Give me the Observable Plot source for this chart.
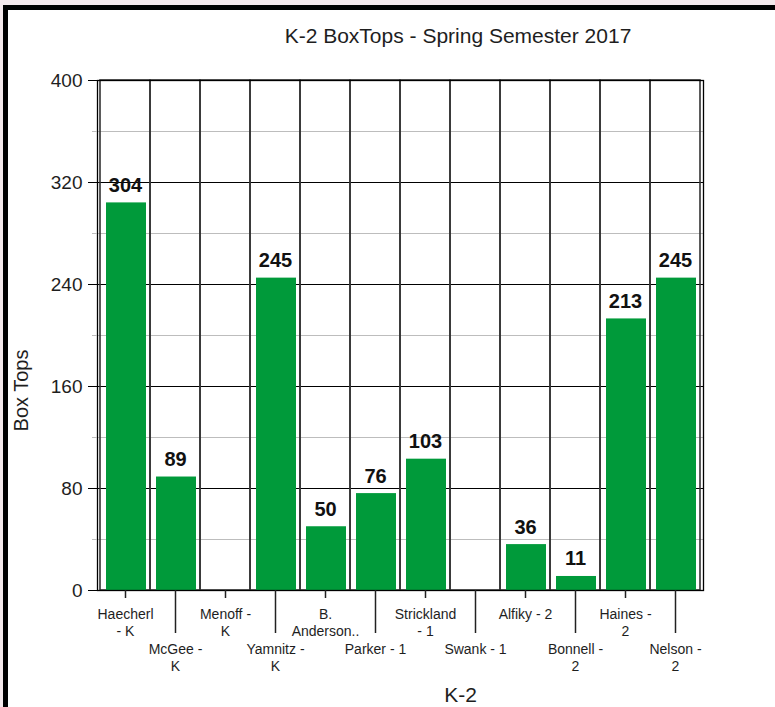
<!DOCTYPE html>
<html><head><meta charset="utf-8">
<script src="https://cdn.jsdelivr.net/npm/d3@7"></script>
<script src="https://cdn.jsdelivr.net/npm/@observablehq/plot@0.6"></script>
<style>
html,body{margin:0;padding:0;background:#f4e9ec;}
#wrap{position:absolute;left:3px;top:5px;width:767px;height:697px;border-left:5px solid #000;border-top:5px solid #000;background:#fff;overflow:hidden;font-family:"Liberation Sans",Arial,sans-serif;}
#title{height:50px;position:relative;}
#title span{position:absolute;left:450px;top:15px;transform:translateX(-50%);white-space:nowrap;font-size:21px;line-height:21px;color:#1e1e1e;}
#chart svg{display:block;}
</style></head>
<body>
<div id="wrap">
  <div id="title"><span>K-2 BoxTops - Spring Semester 2017</span></div>
  <div id="chart"></div>
</div>
<script>
const teachers = ["Haecherl\n- K", "McGee -\nK", "Menoff -\nK", "Yamnitz -\nK", "B.\nAnderson..", "Parker - 1", "Strickland\n- 1", "Swank - 1", "Alfiky - 2", "Bonnell -\n2", "Haines -\n2", "Nelson -\n2"];
const boxTops = [304, 89, 0, 245, 50, 76, 103, 0, 36, 11, 213, 245];
const majorTicks = [0, 80, 160, 240, 320, 400];
const minorTicks = [40, 120, 200, 280, 360];
const yLabel = "Box Tops";
const xLabel = "K-2";

const data = teachers.map((t, i) => ({name: t, value: boxTops[i]}));
const evenTicks = teachers.filter((_, i) => i % 2 === 0);
const oddTicks = teachers.filter((_, i) => i % 2 === 1);

const chart = Plot.plot({
  width: 767,
  height: 647,
  marginLeft: 89,
  marginRight: 72,
  marginTop: 20,
  marginBottom: 117,
  style: {fontFamily: '"Liberation Sans", Arial, sans-serif', color: "#1e1e1e", background: "#fff", overflow: "visible"},
  x: {domain: teachers, padding: 0},
  y: {domain: [0, 400]},
  marks: [
    Plot.ruleY(minorTicks, {stroke: "#bdbdbd", strokeWidth: 1}),
    Plot.ruleY(majorTicks, {stroke: "#000", strokeWidth: 1}),
    Plot.barY(teachers, {x: d => d, y1: 0, y2: 400, fill: "none", stroke: "#333", strokeWidth: 1.6}),
    Plot.barY(data, {x: "name", y: "value", fill: "#009a3a", insetLeft: 6, insetRight: 4}),
    Plot.text(data.filter(d => d.value > 0), {x: "name", y: "value", text: d => String(d.value), dy: -11, lineAnchor: "bottom", fontWeight: "bold", fontSize: 20, fill: "#111"}),
    Plot.frame({stroke: "#000", strokeWidth: 1.3}),
    Plot.axisY(majorTicks, {tickSize: 9, tickPadding: 6, fontSize: 19, label: null, stroke: "#000"}),
    Plot.axisY(minorTicks, {tickSize: 5, tickFormat: () => "", label: null, stroke: "#bdbdbd"}),
    Plot.axisX(evenTicks, {tickSize: 8, tickPadding: 9, fontSize: 14, lineHeight: 1.2, label: null, stroke: "#222", strokeWidth: 1.5}),
    Plot.axisX(oddTicks, {tickSize: 43, tickPadding: 9, fontSize: 14, lineHeight: 1.2, label: null, stroke: "#222", strokeWidth: 1.5}),
    Plot.text([yLabel], {frameAnchor: "left", text: d => d, rotate: -90, textAnchor: "middle", lineAnchor: "middle", dx: -76, dy: 55, fontSize: 20, fill: "#1e1e1e"}),
    Plot.text([xLabel], {frameAnchor: "bottom", text: d => d, textAnchor: "middle", lineAnchor: "middle", dx: 60, dy: 105, fontSize: 21, fill: "#1e1e1e"})
  ]
});
document.getElementById("chart").appendChild(chart);
</script>
</body></html>
